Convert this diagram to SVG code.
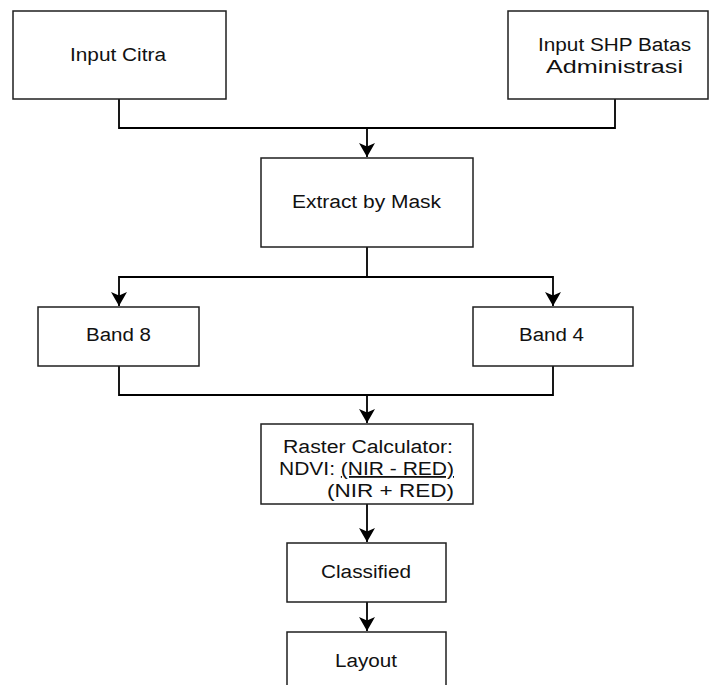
<svg xmlns="http://www.w3.org/2000/svg" width="710" height="685" viewBox="0 0 710 685">
  <style>
    .box { fill: #ffffff; stroke: #1f1f1f; stroke-width: 1.5; }
    .lbl { font-family: "Liberation Sans", Arial, sans-serif; font-size: 18px; fill: #111111; }
    .mid { text-anchor: middle; }
    .edge { fill: none; stroke: #000000; stroke-width: 1.8; }
  </style>
  <defs>
    <marker id="arrow" markerUnits="userSpaceOnUse" markerWidth="18" markerHeight="18" viewBox="0 0 18 18" refX="15" refY="9" orient="auto">
      <path d="M1,1 L15,9 L1,17 L4.5,9 Z" fill="#000000"/>
    </marker>
  </defs>
  <rect width="710" height="685" fill="#ffffff"/>

  <g id="connectors">
    <path class="edge" d="M119,99 V128 H367 V157" marker-end="url(#arrow)"/>
    <path class="edge" d="M615,99 V128 H367"/>
    <path class="edge" d="M367,247 V277 H119 V306" marker-end="url(#arrow)"/>
    <path class="edge" d="M367,277 H553 V306" marker-end="url(#arrow)"/>
    <path class="edge" d="M119,366 V395 H367 V423" marker-end="url(#arrow)"/>
    <path class="edge" d="M553,366 V395 H367"/>
    <path class="edge" d="M367,504 V542" marker-end="url(#arrow)"/>
    <path class="edge" d="M367,602 V631" marker-end="url(#arrow)"/>
  </g>

  <g id="input-citra">
    <rect class="box" x="13" y="11" width="213" height="88"/>
    <text class="lbl mid" x="118" y="61" textLength="96" lengthAdjust="spacingAndGlyphs">Input Citra</text>
  </g>

  <g id="input-shp">
    <rect class="box" x="508" y="11" width="200" height="88"/>
    <text class="lbl mid" x="614.5" y="51" textLength="153" lengthAdjust="spacingAndGlyphs">Input SHP Batas</text>
    <text class="lbl mid" x="614.5" y="73" textLength="137" lengthAdjust="spacingAndGlyphs">Administrasi</text>
  </g>

  <g id="extract-by-mask">
    <rect class="box" x="261" y="158" width="212" height="89"/>
    <text class="lbl mid" x="366.5" y="208" textLength="149" lengthAdjust="spacingAndGlyphs">Extract by Mask</text>
  </g>

  <g id="band-8">
    <rect class="box" x="38" y="307" width="161" height="59"/>
    <text class="lbl mid" x="118.5" y="341" textLength="65" lengthAdjust="spacingAndGlyphs">Band 8</text>
  </g>

  <g id="band-4">
    <rect class="box" x="473" y="307" width="160" height="59"/>
    <text class="lbl mid" x="551.5" y="341" textLength="65" lengthAdjust="spacingAndGlyphs">Band 4</text>
  </g>

  <g id="raster-calculator">
    <rect class="box" x="261" y="424" width="212" height="80"/>
    <text class="lbl" x="283" y="453" textLength="170" lengthAdjust="spacingAndGlyphs">Raster Calculator:</text>
    <text class="lbl" x="279" y="475" textLength="175" lengthAdjust="spacingAndGlyphs">NDVI: <tspan text-decoration="underline">(NIR - RED)</tspan></text>
    <text class="lbl" x="327" y="497" textLength="127" lengthAdjust="spacingAndGlyphs">(NIR + RED)</text>
  </g>

  <g id="classified">
    <rect class="box" x="287" y="543" width="159" height="59"/>
    <text class="lbl mid" x="366" y="578" textLength="90" lengthAdjust="spacingAndGlyphs">Classified</text>
  </g>

  <g id="layout">
    <rect class="box" x="287" y="632" width="159" height="70"/>
    <text class="lbl mid" x="366" y="667" textLength="62" lengthAdjust="spacingAndGlyphs">Layout</text>
  </g>
</svg>
